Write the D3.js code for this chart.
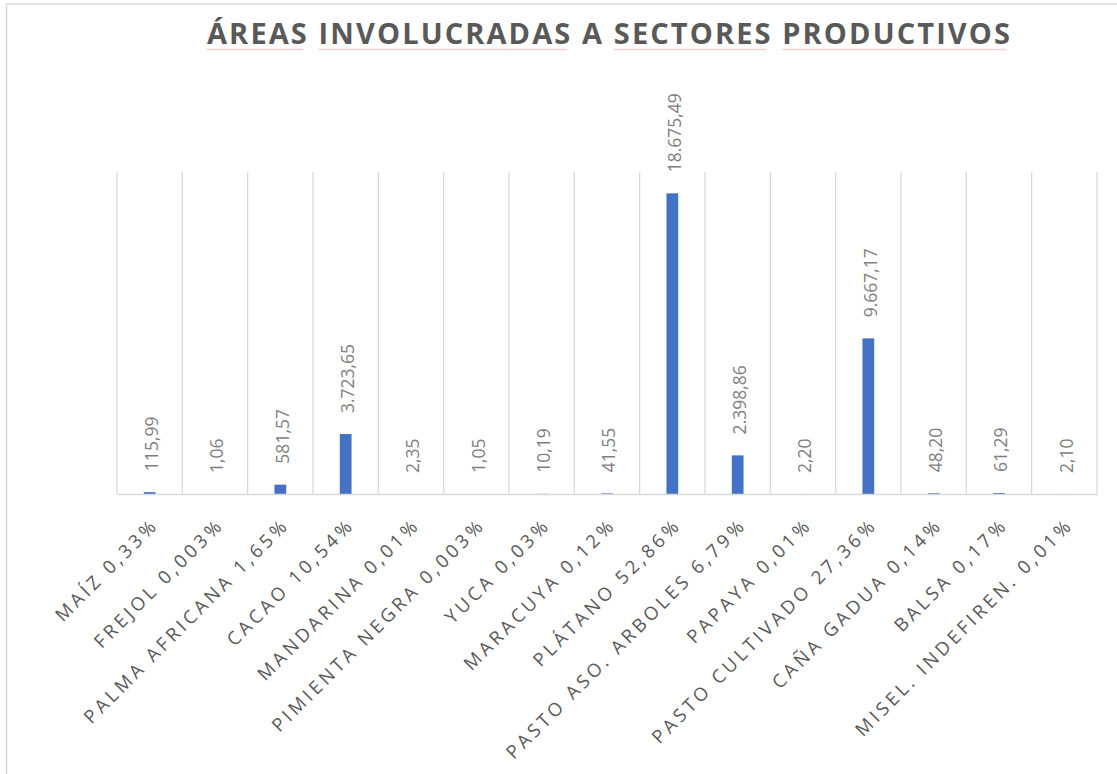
<!DOCTYPE html>
<html>
<head>
<meta charset="utf-8">
<script src="https://cdn.jsdelivr.net/npm/d3@7"></script>
<style>
  html, body { margin: 0; padding: 0; background: #ffffff; }
  svg { display: block; }
</style>
</head>
<body>
<svg id="chart" width="1117" height="774"></svg>
<script>
// Crop names and their share of the total area
const categories = ["MAÍZ", "FREJOL", "PALMA AFRICANA", "CACAO", "MANDARINA", "PIMIENTA NEGRA", "YUCA", "MARACUYA", "PLÁTANO", "PASTO ASO. ARBOLES", "PAPAYA", "PASTO CULTIVADO", "CAÑA GADUA", "BALSA", "MISEL. INDEFIREN."];
const shares = ["0,33%", "0,003%", "1,65%", "10,54%", "0,01%", "0,003%", "0,03%", "0,12%", "52,86%", "6,79%", "0,01%", "27,36%", "0,14%", "0,17%", "0,01%"];
// Area per crop
const values = [115.99, 1.06, 581.57, 3723.65, 2.35, 1.05, 10.19, 41.55, 18675.49, 2398.86, 2.20, 9667.17, 48.20, 61.29, 2.10];
const yDomain = [0, 20000];
const title = "ÁREAS INVOLUCRADAS A SECTORES PRODUCTIVOS";

const svg = d3.select("#chart");
const W = 1117, H = 774;
const plot = { left: 117, right: 1097, top: 172, bottom: 494 };

const es = d3.formatLocale({ decimal: ",", thousands: ".", grouping: [3], currency: ["", ""] });
const fmt = es.format(",.2f");

// Outer chart frame
svg.append("rect")
  .attr("x", 6.5).attr("y", 4)
  .attr("width", W + 10).attr("height", H + 10)
  .attr("fill", "none").attr("stroke", "#d9d9d9").attr("stroke-width", 1.5);

const x = d3.scaleBand().domain(categories).range([plot.left, plot.right]).paddingInner(0).paddingOuter(0);
const y = d3.scaleLinear().domain(yDomain).range([plot.bottom, plot.top]);

// Vertical gridlines at category boundaries
const bounds = categories.map(c => x(c)).concat([plot.right]);
svg.append("g").selectAll("line").data(bounds).join("line")
  .attr("x1", d => d).attr("x2", d => d)
  .attr("y1", plot.top).attr("y2", plot.bottom)
  .attr("stroke", "#d9d9d9").attr("stroke-width", 1.3);

// Bars
const barW = x.bandwidth() * 0.18;
svg.append("g").selectAll("rect").data(categories).join("rect")
  .attr("x", (c) => x(c) + x.bandwidth() / 2 - barW / 2)
  .attr("y", (c, i) => y(values[i]))
  .attr("width", barW)
  .attr("height", (c, i) => plot.bottom - y(values[i]))
  .attr("fill", "#4472c4");

// Category axis baseline
const xAxis = d3.axisBottom(x).tickSize(0).tickFormat("");
svg.append("g")
  .attr("transform", `translate(0,${plot.bottom})`)
  .call(xAxis)
  .call(g => g.select(".domain").attr("stroke", "#d9d9d9").attr("stroke-width", 1.5));

// Value labels, rotated above each bar
svg.append("g").selectAll("text").data(categories).join("text")
  .attr("transform", (c, i) => `translate(${x(c) + x.bandwidth() / 2 + 2},${y(values[i]) - 21}) rotate(-90)`)
  .attr("text-anchor", "start")
  .attr("dy", "0.36em")
  .attr("font-family", "'Open Sans', sans-serif")
  .attr("font-size", 17.5)
  .attr("fill", "#7f7f7f")
  .text((c, i) => fmt(values[i]));

// Category labels at 45 degrees
svg.append("g").selectAll("text").data(categories).join("text")
  .attr("transform", (c) => `translate(${x(c) + x.bandwidth() / 2 + 10},${plot.bottom + 32}) rotate(-45)`)
  .attr("text-anchor", "end")
  .attr("font-family", "'Open Sans', sans-serif")
  .attr("font-size", 18.5)
  .attr("letter-spacing", "3.6px")
  .attr("fill", "#595959")
  .text((c, i) => `${c} ${shares[i]}`);

// Title
const t = svg.append("text")
  .attr("x", 207).attr("y", 44)
  .attr("font-family", "'Open Sans', sans-serif")
  .attr("font-weight", 700)
  .attr("font-size", 29)
  .attr("fill", "#595959")
  .attr("textLength", 803)
  .attr("lengthAdjust", "spacing")
  .text(title);

// Wavy underline beneath the title words
const node = t.node();
const words = [];
let start = 0;
title.split(" ").forEach(w => { words.push([start, start + w.length - 1]); start += w.length + 1; });
const wave = svg.append("g");
words.filter((_, i) => i !== 2).forEach(([a, b]) => {
  const x0 = node.getExtentOfChar(a).x;
  const e = node.getExtentOfChar(b);
  const x1 = e.x + e.width - 3;
  const pts = [];
  for (let px = x0, k = 0; px <= x1; px += 2, k++) pts.push([px, 49 + (k % 2 ? 1 : 0)]);
  wave.append("path")
    .attr("d", d3.line()(pts))
    .attr("fill", "none").attr("stroke", "#f0a8a8").attr("stroke-width", 1).attr("opacity", 0.8);
});
</script>
</body>
</html>
